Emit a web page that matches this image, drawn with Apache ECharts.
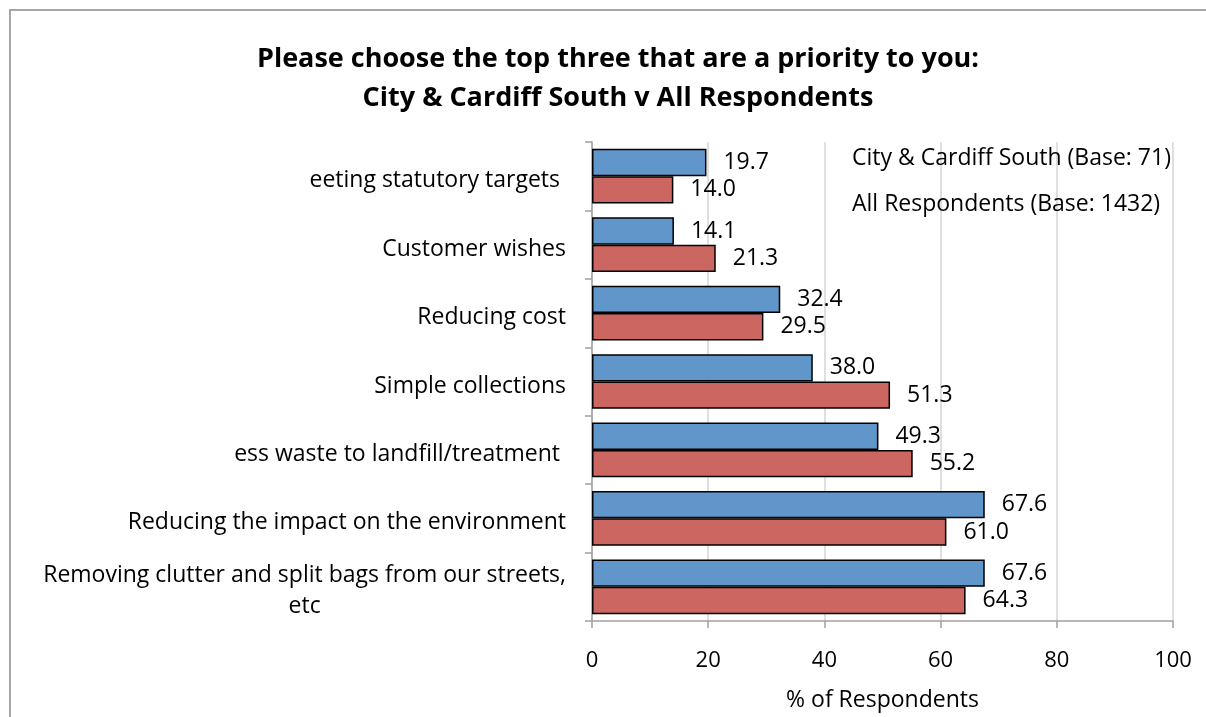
<!DOCTYPE html>
<html>
<head>
<meta charset="utf-8">
<script src="https://cdn.jsdelivr.net/npm/echarts@6/dist/echarts.min.js"></script>
<style>
html,body{margin:0;padding:0;background:#fff;}
#chart{width:1206px;height:717px;}
</style>
</head>
<body>
<div id="chart"></div>
<script>
var categories = [
  "eeting statutory targets ",
  "Customer wishes",
  "Reducing cost",
  "Simple collections",
  "ess waste to landfill/treatment ",
  "Reducing the impact on the environment",
  "Removing clutter and split bags from our streets,\netc"
];
var seriesNames = ["City & Cardiff South (Base: 71)", "All Respondents (Base: 1432)"];
var cityValues = [19.7, 14.1, 32.4, 38.0, 49.3, 67.6, 67.6];
var allValues = [14.0, 21.3, 29.5, 51.3, 55.2, 61.0, 64.3];
var xTicks = [0, 20, 40, 60, 80, 100];
var titleLines = ["Please choose the top three that are a priority to you:", "City & Cardiff South v All Respondents"];
var xAxisName = "% of Respondents";

var FONT = "Open Sans";
var FS = 23;
var FSN = 22;
var chart = echarts.init(document.getElementById('chart'), null, {renderer: 'canvas'});

function barSeries(name, values, color) {
  return {
    name: name,
    type: 'bar',
    data: values,
    barGap: '0%',
    barCategoryGap: '20%',
    itemStyle: {color: color, borderColor: '#000', borderWidth: 1.5},
    label: {
      show: true,
      position: 'right',
      distance: 17,
      formatter: function (p) { return p.value.toFixed(1); },
      color: '#000',
      fontFamily: FONT,
      fontSize: FS
    }
  };
}

var option = {
  animation: false,
  backgroundColor: '#fff',
  textStyle: {fontFamily: FONT},
  graphic: [{
    type: 'rect',
    shape: {x: 10, y: 10, width: 1300, height: 800},
    style: {fill: 'none', stroke: '#a6a6a6', lineWidth: 2},
    silent: true
  }],
  title: {
    text: titleLines.join('\n'),
    left: 613,
    textAlign: 'center',
    top: 35,
    textStyle: {fontFamily: FONT, fontWeight: 'bold', fontSize: 27, color: '#000', lineHeight: 39}
  },
  legend: {
    orient: 'vertical',
    left: 841,
    top: 142,
    itemWidth: 0,
    itemHeight: 0,
    itemGap: 23,
    icon: 'rect',
    data: seriesNames,
    textStyle: {fontFamily: FONT, fontSize: FS, color: '#000'}
  },
  grid: {left: 592, right: 33, top: 142, bottom: 95, containLabel: false},
  xAxis: {
    type: 'value',
    min: xTicks[0],
    max: xTicks[xTicks.length - 1],
    interval: xTicks[1] - xTicks[0],
    name: xAxisName,
    nameLocation: 'middle',
    nameGap: 68,
    nameTextStyle: {fontFamily: FONT, fontSize: FS, color: '#000'},
    axisLine: {show: true, lineStyle: {color: '#a0a0a0', width: 1.5}},
    axisTick: {show: true, length: 7, lineStyle: {color: '#a0a0a0', width: 1.5}},
    axisLabel: {fontFamily: FONT, fontSize: FSN, color: '#000', margin: 29},
    splitLine: {show: true, lineStyle: {color: '#d4d4d4', width: 1.5}}
  },
  yAxis: {
    type: 'category',
    inverse: true,
    data: categories,
    axisLine: {show: true, lineStyle: {color: '#a0a0a0', width: 1.5}},
    axisTick: {show: true, length: 7, lineStyle: {color: '#a0a0a0', width: 1.5}},
    axisLabel: {
      fontFamily: FONT, fontSize: FS, color: '#000', margin: 26, lineHeight: 31,
      padding: [9, 0, 0, 0],
      formatter: function (v) {
        var parts = v.split('\n');
        if (parts.length < 2) return v;
        return parts[0] + '\n{c|' + parts[1] + '}';
      },
      rich: {c: {width: 522, align: 'center', fontFamily: FONT, fontSize: FS, color: '#000', lineHeight: 31}}
    }
  },
  series: [
    barSeries(seriesNames[0], cityValues, '#6096c9'),
    barSeries(seriesNames[1], allValues, '#cc6660')
  ]
};
chart.setOption(option);
</script>
</body>
</html>
